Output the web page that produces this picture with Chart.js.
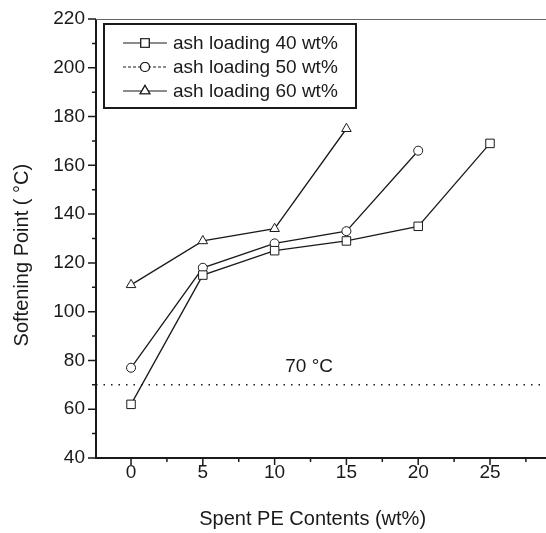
<!DOCTYPE html>
<html><head><meta charset="utf-8">
<script src="https://cdn.jsdelivr.net/npm/chart.js@4/dist/chart.umd.min.js"></script>
<style>html,body{margin:0;padding:0;background:#fff;overflow:hidden}canvas{display:block}</style>
</head><body>
<canvas id="c" width="546" height="533"></canvas>
<script>
// ---- data ----
const peContents = [0, 5, 10, 15, 20, 25];
const ash40 = [62, 115, 125, 129, 135, 169];
const ash50 = [77, 118, 128, 133, 166];
const ash60 = [111, 129, 134, 175];
const seriesNames = ['ash loading 40 wt%', 'ash loading 50 wt%', 'ash loading 60 wt%'];
const thresholdValue = 70;
const thresholdLabel = '70 °C';
const xTicks = [0, 5, 10, 15, 20, 25];
const xMinorTicks = [2.5, 7.5, 12.5, 17.5, 22.5, 27.5];
const yTicks = [40, 60, 80, 100, 120, 140, 160, 180, 200, 220];
const yMinorTicks = [50, 70, 90, 110, 130, 150, 170, 190, 210];
const xMin = -2.44, xMax = 28.9, yMin = 40, yMax = 220;

const FONT = "'Liberation Sans', Arial, sans-serif";
const INK = '#1a1a1a';
const pts = (ys) => ys.map((y, i) => ({x: peContents[i], y}));

const styles = [
  {pointStyle: 'rect', pointRadius: 6, dash: []},
  {pointStyle: 'circle', pointRadius: 4.5, dash: [3, 2]},
  {pointStyle: 'triangle', pointRadius: 5.5, dash: []}
];

const decor = {
  id: 'decor',
  afterDraw(chart) {
    const {ctx, chartArea: a, scales: {x, y}} = chart;
    ctx.save();
    ctx.strokeStyle = INK;
    // frame
    ctx.lineWidth = 2;
    ctx.beginPath();
    ctx.moveTo(a.left, a.top); ctx.lineTo(a.left, a.bottom); ctx.lineTo(a.right, a.bottom);
    ctx.stroke();
    ctx.lineWidth = 1;
    ctx.strokeStyle = '#666';
    ctx.beginPath(); ctx.moveTo(a.left, a.top + 0.5); ctx.lineTo(a.right, a.top + 0.5); ctx.stroke();
    ctx.strokeStyle = INK;
    ctx.lineWidth = 1.5;
    // ticks
    ctx.beginPath();
    yTicks.forEach(v => { const p = y.getPixelForValue(v); ctx.moveTo(a.left - 8, p); ctx.lineTo(a.left, p); });
    yMinorTicks.forEach(v => { const p = y.getPixelForValue(v); ctx.moveTo(a.left - 4, p); ctx.lineTo(a.left, p); });
    xTicks.forEach(v => { const p = x.getPixelForValue(v); ctx.moveTo(p, a.bottom); ctx.lineTo(p, a.bottom + 7); });
    xMinorTicks.forEach(v => { const p = x.getPixelForValue(v); ctx.moveTo(p, a.bottom); ctx.lineTo(p, a.bottom + 4); });
    ctx.stroke();

    // 70 °C label
    ctx.fillStyle = INK;
    ctx.font = '19px ' + FONT;
    ctx.textAlign = 'center';
    ctx.textBaseline = 'middle';
    ctx.fillText(thresholdLabel, x.getPixelForValue(12.4), y.getPixelForValue(77.5));

    // legend box
    const bx = a.left + 8, by = a.top + 5, bw = 252, bh = 84;
    ctx.lineWidth = 2;
    ctx.strokeStyle = INK;
    ctx.fillStyle = '#fff';
    ctx.fillRect(bx, by, bw, bh);
    ctx.strokeRect(bx, by, bw, bh);
    chart.data.datasets.slice(1, 4).forEach((ds, i) => {
      const cy = by + 19 + i * 24;
      const x0 = bx + 19, x1 = bx + 63, mx = bx + 41;
      ctx.lineWidth = 1.2;
      ctx.strokeStyle = INK;
      ctx.setLineDash(styles[i].dash);
      ctx.beginPath(); ctx.moveTo(x0, cy); ctx.lineTo(x1, cy); ctx.stroke();
      ctx.setLineDash([]);
      Chart.helpers.drawPoint(ctx, {pointStyle: styles[i].pointStyle, radius: styles[i].pointRadius, borderWidth: 1}, mx, cy);
      ctx.fillStyle = '#fff';
      ctx.fill();
      ctx.stroke();
      ctx.fillStyle = INK;
      ctx.font = '19px ' + FONT;
      ctx.textAlign = 'left';
      ctx.textBaseline = 'middle';
      ctx.fillText(ds.label, bx + 69, cy + 1);
    });
    ctx.restore();
  }
};

const mk = (label, ys, s) => ({
  label, data: pts(ys), borderColor: INK, borderWidth: 1.3,
  pointStyle: s.pointStyle, pointRadius: s.pointRadius, pointBorderWidth: 1,
  pointBackgroundColor: '#fff', pointBorderColor: INK, tension: 0, fill: false
});

new Chart(document.getElementById('c'), {
  type: 'line',
  data: {
    datasets: [
      {label: 'threshold', data: [{x: xMin, y: thresholdValue}, {x: xMax, y: thresholdValue}],
       borderColor: INK, borderWidth: 1.5, borderDash: [1.5, 6], pointRadius: 0},
      mk(seriesNames[0], ash40, styles[0]),
      mk(seriesNames[1], ash50, styles[1]),
      mk(seriesNames[2], ash60, styles[2])
    ]
  },
  options: {
    responsive: false, animation: false, devicePixelRatio: 1,
    layout: {autoPadding: false, padding: {top: 19, right: 0, bottom: 0, left: 0}},
    plugins: {legend: {display: false}, tooltip: {enabled: false}},
    scales: {
      x: {
        type: 'linear', min: xMin, max: xMax,
        afterBuildTicks: s => { s.ticks = xTicks.map(v => ({value: v})); },
        afterFit: s => { s.height = 75; s.paddingLeft = 0; s.paddingRight = 0; },
        grid: {display: false, drawTicks: false}, border: {display: false},
        ticks: {color: INK, font: {family: FONT, size: 19}, padding: 3, maxRotation: 0},
        title: {display: true, text: 'Spent PE Contents (wt%)   ', color: INK,
                font: {family: FONT, size: 20}, padding: {top: 0, bottom: 2}}
      },
      y: {
        type: 'linear', min: yMin, max: yMax,
        afterBuildTicks: s => { s.ticks = yTicks.map(v => ({value: v})); },
        afterFit: s => { s.width = 96; s.paddingTop = 0; s.paddingBottom = 0; },
        grid: {display: false, drawTicks: false}, border: {display: false},
        ticks: {color: INK, font: {family: FONT, size: 19}, padding: 11},
        title: {display: true, text: 'Softening Point ( °C)      ', color: INK,
                font: {family: FONT, size: 20}, padding: {top: 10, bottom: 0}}
      }
    }
  },
  plugins: [decor]
});
</script>
</body></html>
